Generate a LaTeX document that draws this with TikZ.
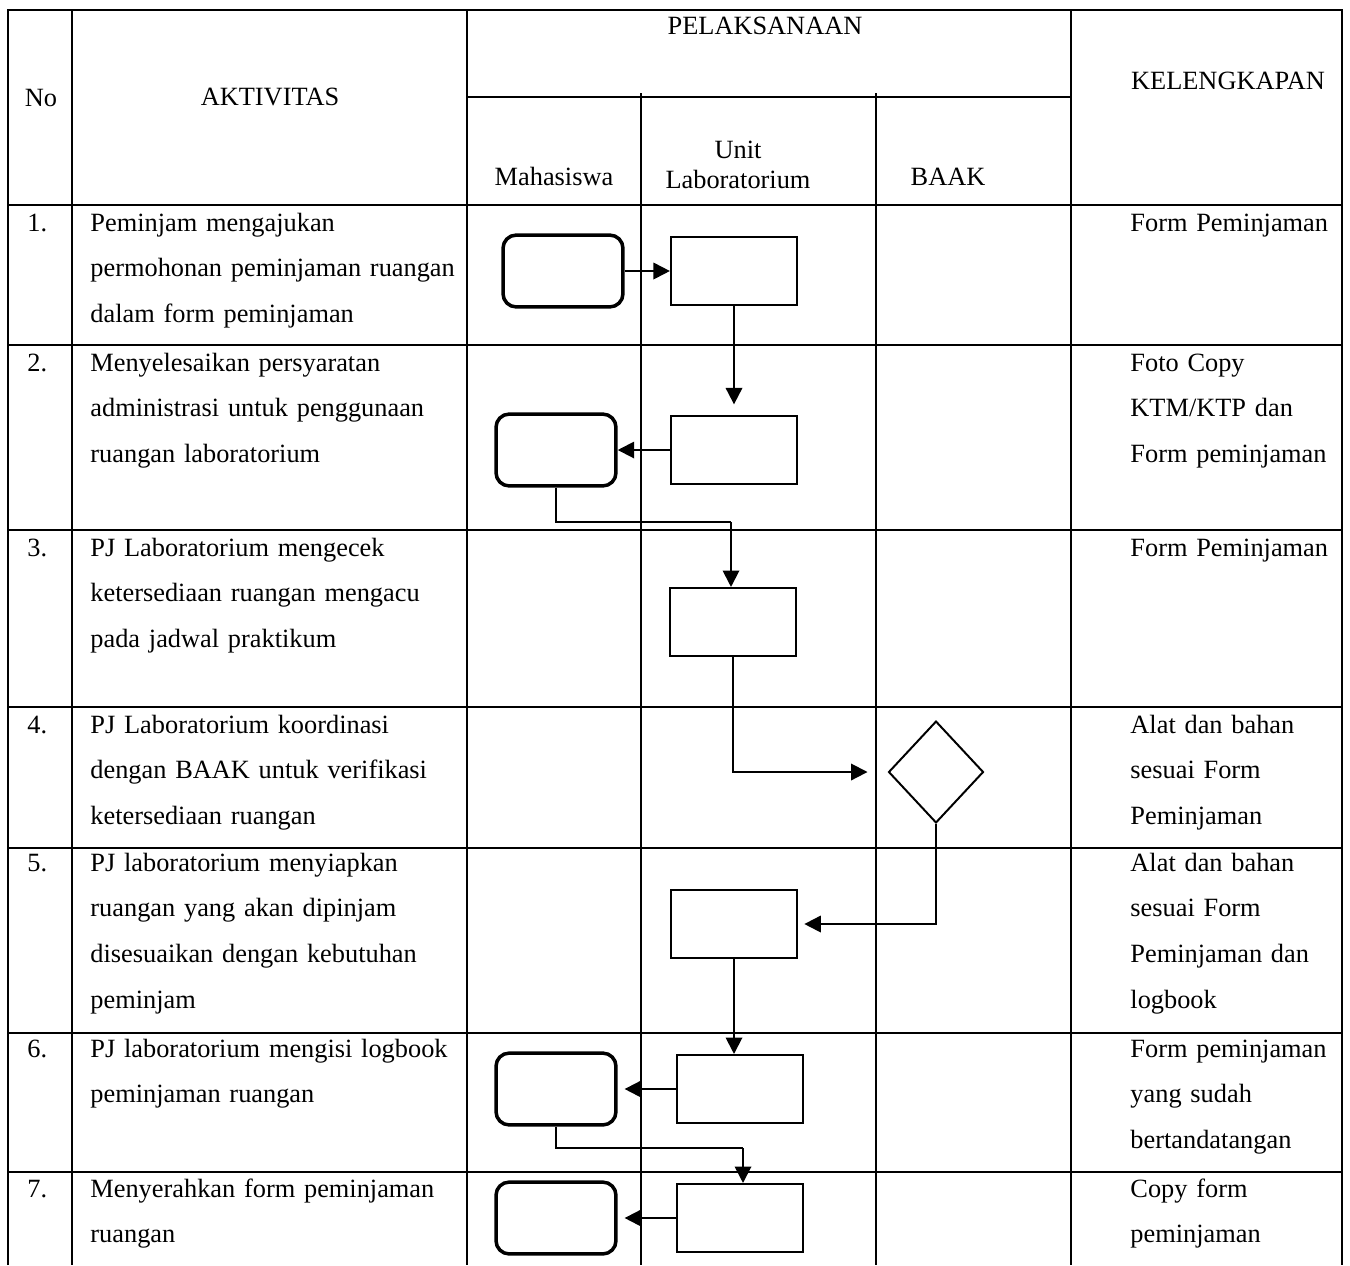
\documentclass[tikz,border=0pt]{standalone}
\usepackage{fontspec}
\setmainfont{Liberation Serif}
\usetikzlibrary{shapes.geometric,arrows.meta,positioning}

\begin{document}
\begin{tikzpicture}[x=0.016cm,y=-0.016cm,
  cell/.style={inner sep=0pt,anchor=base west,align=left,text width=6.4cm,font=\fontsize{12}{20.9}\selectfont},
  nomor/.style={inner sep=0pt,anchor=base west,font=\fontsize{12}{20.9}\selectfont},
  head/.style={inner sep=0pt,align=center,font=\fontsize{12}{13.8}\selectfont},
  grid/.style={line width=1.1pt},
  mhs/.style={rectangle,rounded corners=6pt,draw,line width=1.6pt,minimum width=1.92cm,minimum height=1.15cm},
  proses/.style={rectangle,draw,line width=0.9pt,minimum width=2.02cm,minimum height=1.09cm},
  cek/.style={diamond,draw,line width=0.9pt,minimum width=1.52cm,minimum height=1.63cm,inner sep=0pt},
  alur/.style={-{Triangle[length=7.5pt,width=7.5pt]},line width=0.9pt},
  garis/.style={line width=0.7pt}]
  \useasboundingbox (0,0) rectangle (1350,1265);

  % Tabel
  \draw[grid] (8,1265) -- (8,10) -- (1342,10) -- (1342,1265);
  \draw[grid] (72,10) -- (72,1265);
  \draw[grid] (467,10) -- (467,1265);
  \draw[grid] (641,93) -- (641,1265);
  \draw[grid] (876,93) -- (876,1265);
  \draw[line width=0.8pt] (1071,10) -- (1071,1265);
  \draw[grid] (467,97) -- (1071,97);
  \draw[grid] (8,205) -- (1342,205);
  \draw[grid] (8,345) -- (1342,345);
  \draw[grid] (8,530) -- (1342,530);
  \draw[grid] (8,707) -- (1342,707);
  \draw[grid] (8,848) -- (1342,848);
  \draw[grid] (8,1033) -- (1342,1033);
  \draw[grid] (8,1172) -- (1342,1172);

  % Header
  \node[head] (no) at (41,98) {No};
  \node[head] (aktivitas) at (270,97) {AKTIVITAS};
  \node[head] (pelaksanaan) at (765,26) {PELAKSANAAN};
  \node[head] (kelengkapan) at (1228,81) {KELENGKAPAN};
  \node[head] (mahasiswa) at (554,176) {Mahasiswa};
  \node[head] (unit) at (738,165) {Unit\\Laboratorium};
  \node[head] (baak) at (948,177) {BAAK};

  % Isi baris
  \node[nomor] (no1) at (27,231) {1.};
  \node[cell] (akt1) at (90,231) {Peminjam mengajukan\\permohonan peminjaman ruangan\\dalam form peminjaman};
  \node[cell] (kel1) at (1130,231) {Form Peminjaman};
  \node[nomor] (no2) at (27,371) {2.};
  \node[cell] (akt2) at (90,371) {Menyelesaikan persyaratan\\administrasi untuk penggunaan\\ruangan laboratorium};
  \node[cell] (kel2) at (1130,371) {Foto Copy\\KTM/KTP dan\\Form peminjaman};
  \node[nomor] (no3) at (27,556) {3.};
  \node[cell] (akt3) at (90,556) {PJ Laboratorium mengecek\\ketersediaan ruangan mengacu\\pada jadwal praktikum};
  \node[cell] (kel3) at (1130,556) {Form Peminjaman};
  \node[nomor] (no4) at (27,733) {4.};
  \node[cell] (akt4) at (90,733) {PJ Laboratorium koordinasi\\dengan BAAK untuk verifikasi\\ketersediaan ruangan};
  \node[cell] (kel4) at (1130,733) {Alat dan bahan\\sesuai Form\\Peminjaman};
  \node[nomor] (no5) at (27,871) {5.};
  \node[cell] (akt5) at (90,871) {PJ laboratorium menyiapkan\\ruangan yang akan dipinjam\\disesuaikan dengan kebutuhan\\peminjam};
  \node[cell] (kel5) at (1130,871) {Alat dan bahan\\sesuai Form\\Peminjaman dan\\logbook};
  \node[nomor] (no6) at (27,1057) {6.};
  \node[cell] (akt6) at (90,1057) {PJ laboratorium mengisi logbook\\peminjaman ruangan};
  \node[cell] (kel6) at (1130,1057) {Form peminjaman\\yang sudah\\bertandatangan};
  \node[nomor] (no7) at (27,1197) {7.};
  \node[cell] (akt7) at (90,1197) {Menyerahkan form peminjaman\\ruangan};
  \node[cell] (kel7) at (1130,1197) {Copy form\\peminjaman};

  % Simbol alur
  \node[mhs] (m1) at (563,271) {};
  \node[proses] (u1) at (734,271) {};
  \node[mhs] (m2) at (556,450) {};
  \node[proses] (u2) at (734,450) {};
  \node[proses] (u3) at (733,622) {};
  \node[cek] (b4) at (936,772) {};
  \node[proses] (u5) at (734,924) {};
  \node[mhs] (m6) at (556,1089) {};
  \node[proses] (u6) at (740,1089) {};
  \node[mhs] (m7) at (556,1218) {};
  \node[proses] (u7) at (740,1218) {};
  \coordinate (j2) at (731,522);
  \coordinate (j6) at (743,1148);

  % Panah
  \draw[alur] (m1.east) -- (u1.west);
  \draw[alur,shorten >=0.17cm] (u1.south) -- (u2.north);
  \draw[alur] (u2.west) -- (m2.east);
  \draw[garis] (m2.south) |- (j2);
  \draw[alur] (j2) -- (j2 |- u3.north);
  \draw[alur,shorten >=0.32cm] (u3.south) |- (b4.west);
  \draw[alur,shorten >=0.1cm] (b4.south) |- (u5.east);
  \draw[alur] (u5.south) -- (u5.south |- u6.north);
  \draw[alur,shorten >=0.11cm] (u6.west) -- (m6.east);
  \draw[garis] (m6.south) |- (j6);
  \draw[alur] (j6) -- (j6 |- u7.north);
  \draw[alur,shorten >=0.11cm] (u7.west) -- (m7.east);
\end{tikzpicture}
\end{document}
